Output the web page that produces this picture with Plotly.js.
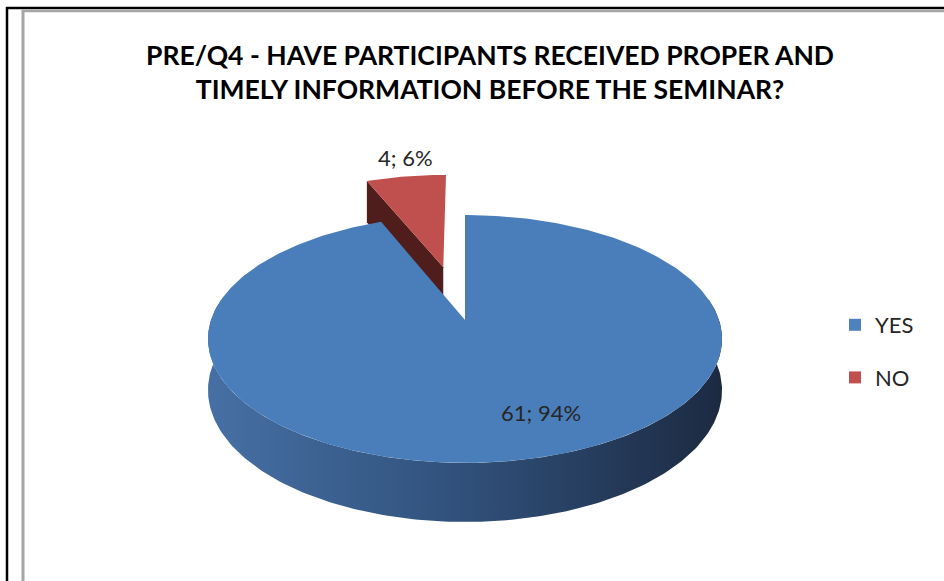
<!DOCTYPE html>
<html>
<head>
<meta charset="utf-8">
<script src="https://cdn.plot.ly/plotly-3.0.1.min.js"></script>
<style>html,body{margin:0;padding:0;background:#fff;}#chart{width:944px;height:581px;}</style>
</head>
<body>
<div id="chart"></div>
<script>
// ---- data ----
const categories = ['YES', 'NO'];
const values = [61, 4];
const titleText = 'PRE/Q4 - HAVE PARTICIPANTS RECEIVED PROPER AND<br>TIMELY INFORMATION BEFORE THE SEMINAR?';

// ---- styles ----
const topColors = ['#4a7ebb', '#c0504d'];
const sideColors = ['#2f4b72', '#4f1d1b'];
const legendColors = ['#4f81bd', '#c0504d'];
const explode = [0, 0.477];

// 3D projection of the pie (pixel-unit axes)
const P = {cx: 465, cy: 320, A: 121, B: 254, k: 0.153, D: 50};
function proj(u, v, drop) {
  const s = 1 / (1 + P.k * v);
  return [P.cx + P.B * u * s, P.cy - P.A * v * s + (drop ? P.D * s : 0)];
}
const rad = d => d * Math.PI / 180;

const total = values.reduce((a, b) => a + b, 0);
const slices = [];
let start = 0;
values.forEach((v, i) => {
  const sweep = v / total * 360;
  const mid = start + sweep / 2;
  const e = explode[i];
  slices.push({i, t0: start, t1: start + sweep, ou: e * Math.sin(rad(mid)), ov: e * Math.cos(rad(mid))});
  start += sweep;
});

function topFace(s) {
  const xs = [], ys = [];
  let p = proj(s.ou, s.ov, false); xs.push(p[0]); ys.push(p[1]);
  const n = Math.max(4, Math.ceil((s.t1 - s.t0) / 1));
  for (let j = 0; j <= n; j++) {
    const t = rad(s.t0 + (s.t1 - s.t0) * j / n);
    p = proj(s.ou + Math.sin(t), s.ov + Math.cos(t), false);
    xs.push(p[0]); ys.push(p[1]);
  }
  xs.push(xs[0]); ys.push(ys[0]);
  return {xs, ys};
}
function rim(s, a0, a1) {
  const xs = [], ys = [];
  const lo = Math.max(s.t0, a0), hi = Math.min(s.t1, a1);
  const n = Math.ceil(hi - lo);
  for (let j = 0; j <= n; j++) {
    const t = rad(lo + (hi - lo) * j / n);
    const p = proj(s.ou + Math.sin(t), s.ov + Math.cos(t), false);
    xs.push(p[0]); ys.push(p[1]);
  }
  for (let j = n; j >= 0; j--) {
    const t = rad(lo + (hi - lo) * j / n);
    const p = proj(s.ou + Math.sin(t), s.ov + Math.cos(t), true);
    xs.push(p[0]); ys.push(p[1]);
  }
  xs.push(xs[0]); ys.push(ys[0]);
  return {xs, ys};
}
function radialFace(s, ang) {
  const t = rad(ang);
  const pts = [
    proj(s.ou, s.ov, false),
    proj(s.ou + Math.sin(t), s.ov + Math.cos(t), false),
    proj(s.ou + Math.sin(t), s.ov + Math.cos(t), true),
    proj(s.ou, s.ov, true)
  ];
  pts.push(pts[0]);
  return {xs: pts.map(p => p[0]), ys: pts.map(p => p[1])};
}

const traces = [];
function poly(g, color, extra) {
  return Object.assign({
    type: 'scatter', mode: 'lines', x: g.xs, y: g.ys, fill: 'toself', fillcolor: color,
    line: {width: 0, color: color}, hoverinfo: 'skip', showlegend: false
  }, extra || {});
}
// NO slice (behind): dark radial face then top face
const sNo = slices[1], sYes = slices[0];
traces.push(poly(radialFace(sNo, sNo.t0), sideColors[1]));
traces.push(poly(topFace(sNo), topColors[1], {name: categories[1]}));
// YES slice: front rim with gradient, then top face
traces.push(poly(rim(sYes, 80, 280), sideColors[0], {
  fillgradient: {type: 'horizontal', colorscale: [[0, '#4670a4'], [0.5, '#30507a'], [1, '#1c2a41']]}
}));
traces.push(poly(topFace(sYes), topColors[0], {name: categories[0]}));
// legend entries
categories.forEach((c, i) => {
  traces.push({type: 'scatter', mode: 'markers', x: [null], y: [null], name: c, legendgroup: c,
    marker: {symbol: 'square', size: 12, color: legendColors[i]}, showlegend: true, hoverinfo: 'skip'});
});

const labelText = values.map(v => v + '; ' + Math.round(v / total * 100) + '%');
const labelPos = [[541, 412], [405, 157]];
const annotations = labelText.map((t, i) => ({
  x: labelPos[i][0], y: labelPos[i][1], xref: 'x', yref: 'y', text: t, showarrow: false,
  font: {family: 'Lato, sans-serif', size: 22, color: '#262626'}, xanchor: 'center', yanchor: 'middle'
}));

const shapes = [
  {type: 'line', xref: 'x', yref: 'y', x0: 7, x1: 7, y0: 7, y1: 581, line: {color: '#000', width: 2.5}},
  {type: 'line', xref: 'x', yref: 'y', x0: 6, x1: 944, y0: 8, y1: 8, line: {color: '#000', width: 2.5}},
  {type: 'line', xref: 'x', yref: 'y', x0: 23, x1: 23, y0: 10, y1: 581, line: {color: '#a6a6a6', width: 3}},
  {type: 'line', xref: 'x', yref: 'y', x0: 22, x1: 944, y0: 11, y1: 11, line: {color: '#a6a6a6', width: 2.5}}
];

const layout = {
  width: 944, height: 581,
  margin: {l: 0, r: 0, t: 0, b: 0, pad: 0},
  paper_bgcolor: '#fff', plot_bgcolor: '#fff',
  xaxis: {range: [0, 944], visible: false, fixedrange: true},
  yaxis: {range: [581, 0], visible: false, fixedrange: true},
  title: {
    text: titleText, x: 490 / 944, xanchor: 'center', xref: 'container',
    y: 1 - 65 / 581, yanchor: 'middle', yref: 'container',
    font: {family: 'Lato, sans-serif', size: 26.5, color: '#000', weight: 700}
  },
  showlegend: true,
  legend: {
    x: 835 / 944, xanchor: 'left', y: 1 - 304 / 581, yanchor: 'top',
    traceorder: 'grouped', tracegroupgap: 21, bgcolor: 'rgba(0,0,0,0)',
    font: {family: 'Lato, sans-serif', size: 22, color: '#262626'}
  },
  annotations: annotations,
  shapes: shapes
};

Plotly.newPlot('chart', traces, layout, {staticPlot: true, displayModeBar: false});
</script>
</body>
</html>
